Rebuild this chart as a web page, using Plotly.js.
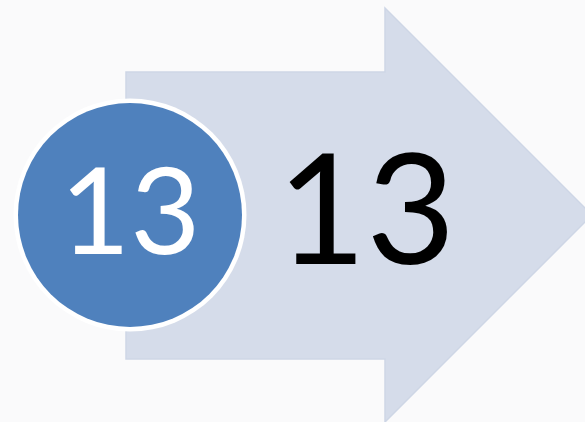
<!DOCTYPE html>
<html>
<head>
<meta charset="utf-8">
<script src="https://cdn.plot.ly/plotly-3.0.1.min.js"></script>
<style>html,body{margin:0;padding:0;background:#FAFAFB;}#chart{width:585px;height:422px;}</style>
</head>
<body>
<div id="chart"></div>
<script>
// Data
const stepNumbers = ["13"];
const stepLabels = ["13"];

const W = 585, H = 422;
const circle = {cx: 130, cy: 215, r: 112, border: 4.5};

const shapes = [
  // arrow
  {type:'path', xref:'x', yref:'y',
   path:'M126,72 L385,72 L385,8 L592,215 L385,422 L385,359 L126,359 Z',
   fillcolor:'#D5DCEA', line:{color:'#CED6E6', width:1.5}, layer:'below'},
  // circle white border
  {type:'circle', xref:'x', yref:'y',
   x0:circle.cx-circle.r-circle.border, x1:circle.cx+circle.r+circle.border,
   y0:circle.cy-circle.r-circle.border, y1:circle.cy+circle.r+circle.border,
   fillcolor:'#FFFFFF', line:{width:0}, layer:'below'},
  // circle blue
  {type:'circle', xref:'x', yref:'y',
   x0:circle.cx-circle.r, x1:circle.cx+circle.r,
   y0:circle.cy-circle.r, y1:circle.cy+circle.r,
   fillcolor:'#4F81BD', line:{width:0}, layer:'below'}
];

const annotations = [
  {xref:'x', yref:'y', x:130, y:207, text:stepNumbers[0], showarrow:false,
   xanchor:'center', yanchor:'middle', font:{family:'Lato, "Open Sans", sans-serif', size:121, color:'#FFFFFF'}},
  {xref:'x', yref:'y', x:366, y:204, text:stepLabels[0], showarrow:false,
   xanchor:'center', yanchor:'middle', font:{family:'Lato, "Open Sans", sans-serif', size:154, color:'#000000'}}
];

Plotly.newPlot('chart', [{x:[0], y:[0], mode:'markers', marker:{opacity:0}, hoverinfo:'skip', showlegend:false}], {
  width:W, height:H,
  margin:{l:0, r:0, t:0, b:0, pad:0},
  paper_bgcolor:'#FAFAFB', plot_bgcolor:'rgba(0,0,0,0)',
  xaxis:{range:[0,W], visible:false, fixedrange:true},
  yaxis:{range:[H,0], visible:false, fixedrange:true},
  shapes:shapes, annotations:annotations, showlegend:false
}, {displayModeBar:false, staticPlot:true});
</script>
</body>
</html>
